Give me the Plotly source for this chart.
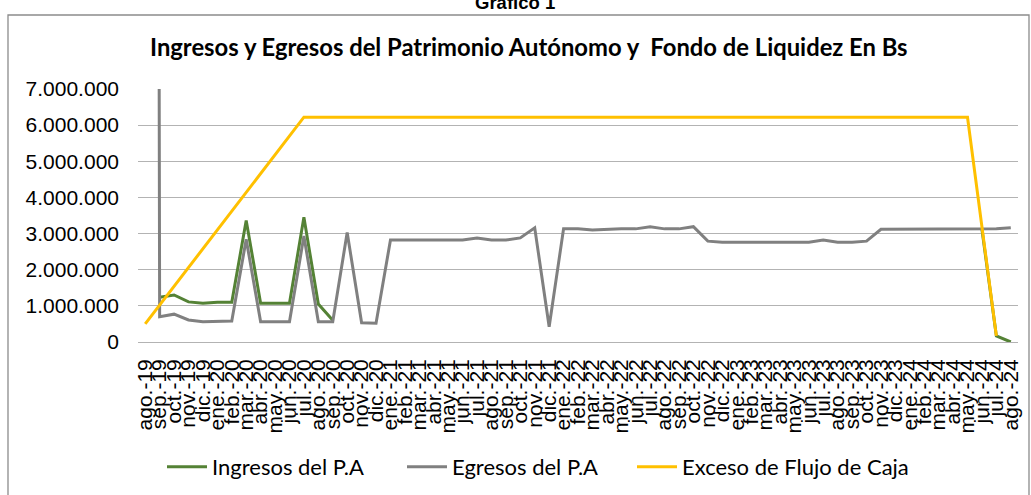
import plotly.graph_objects as go

months = [
    "ago.-19", "sep.-19", "oct.-19", "nov.-19", "dic.-19",
    "ene.-20", "feb.-20", "mar.-20", "abr.-20", "may.-20", "jun.-20", "jul.-20",
    "ago.-20", "sep.-20", "oct.-20", "nov.-20", "dic.-20",
    "ene.-21", "feb.-21", "mar.-21", "abr.-21", "may.-21", "jun.-21", "jul.-21",
    "ago.-21", "sep.-21", "oct.-21", "nov.-21", "dic.-21",
    "ene.-22", "feb.-22", "mar.-22", "abr.-22", "may.-22", "jun.-22", "jul.-22",
    "ago.-22", "sep.-22", "oct.-22", "nov.-22", "dic.-22",
    "ene.-23", "feb.-23", "mar.-23", "abr.-23", "may.-23", "jun.-23", "jul.-23",
    "ago.-23", "sep.-23", "oct.-23", "nov.-23", "dic.-23",
    "ene.-24", "feb.-24", "mar.-24", "abr.-24", "may.-24", "jun.-24", "jul.-24",
    "ago.-24",
]

ingresos = [
    None, 1240000, 1300000, 1110000, 1070000, 1100000, 1100000, 3360000,
    1070000, 1070000, 1070000, 3450000, 1050000, 600000,
    None, None, None, None, None, None, None, None, None, None,
    None, None, None, None, None, None, None, None, None, None,
    None, None, None, None, None, None, None, None, None, None,
    None, None, None, None, None, None, None, None, None, None,
    None, None, None, None,
    3120000, 170000, 0,
]

egresos = [
    200000000, 700000, 770000, 610000, 560000, 580000, 580000, 2840000,
    560000, 560000, 560000, 2930000, 560000, 560000, 3030000, 530000,
    520000, 2820000, 2820000, 2800000, 2820000, 2820000, 2820000, 2880000,
    2820000, 2820000, 2880000, 3160000, 420000, 3130000, 3130000, 3100000,
    3120000, 3130000, 3130000, 3190000, 3130000, 3130000, 3190000, 2790000,
    2760000, 2760000, 2760000, 2760000, 2760000, 2760000, 2760000, 2820000,
    2760000, 2760000, 2790000, 3120000, 3120000, 3120000, 3120000, 3120000,
    3120000, 3120000, 3120000, 3130000, 3160000,
]

exceso = [
    500000, 1020000, 1540000, 2060000, 2580000, 3100000, 3620000, 4140000,
    4660000, 5180000, 5700000, 6220000, 6220000, 6220000, 6220000, 6220000,
    6220000, 6220000, 6220000, 6220000, 6220000, 6220000, 6220000, 6220000,
    6220000, 6220000, 6220000, 6220000, 6220000, 6220000, 6220000, 6220000,
    6220000, 6220000, 6220000, 6220000, 6220000, 6220000, 6220000, 6220000,
    6220000, 6220000, 6220000, 6220000, 6220000, 6220000, 6220000, 6220000,
    6220000, 6220000, 6220000, 6220000, 6220000, 6220000, 6220000, 6220000,
    6220000, 6220000, 3190000, 170000, None,
]

series_names = ["Ingresos del P.A", "Egresos del P.A", "Exceso de Flujo de Caja"]
series_colors = ["#548235", "#808080", "#ffc000"]
legend_ids = ["legend", "legend2", "legend3"]
legend_left_px = [162, 402, 632]

W, H = 1031, 495
ML, MR, MT, MB = 138, 13, 89, 153
PW = W - ML - MR
PH = H - MT - MB


def px_x(p):
    return (p - ML) / PW


def px_y(p):
    return (H - MB - p) / PH


xs = list(range(len(months)))

fig = go.Figure()
for name, vals, col, lg in zip(series_names, [ingresos, egresos, exceso], series_colors, legend_ids):
    fig.add_trace(go.Scatter(
        x=xs, y=vals, mode="lines", name=name, legend=lg,
        line=dict(color=col, width=3), connectgaps=False,
    ))

arial = "Liberation Sans, Arial, sans-serif"
calibri = "Lato, Carlito, Calibri, sans-serif"

legend_style = {}
for lg, lx in zip(legend_ids, legend_left_px):
    legend_style[lg] = dict(
        orientation="h", x=px_x(lx), xanchor="left", y=px_y(467), yanchor="middle",
        font=dict(family=calibri, size=22, color="#000000"),
        itemwidth=40, bgcolor="rgba(0,0,0,0)",
    )

fig.update_layout(
    width=W, height=H,
    margin=dict(l=ML, r=MR, t=MT, b=MB, autoexpand=False),
    paper_bgcolor="white", plot_bgcolor="white",
    separators=",.",
    showlegend=True,
    **legend_style,
    xaxis=dict(
        range=[-0.5, len(months) - 0.5],
        tickmode="array", tickvals=xs, ticktext=months,
        tickangle=-90, tickfont=dict(family=arial, size=21, color="#000000"),
        showgrid=False, zeroline=False,
        showline=False, ticks="", ticklabelstandoff=12,
        fixedrange=True,
    ),
    yaxis=dict(
        range=[0, 7000000], dtick=1000000, tick0=0,
        tickformat=",d", tickfont=dict(family=arial, size=21, color="#000000"),
        showgrid=True, gridcolor="#b3b3b3", gridwidth=1.3,
        zeroline=True, zerolinecolor="#b3b3b3", zerolinewidth=1.3,
        showline=False, ticks="", ticklabelstandoff=18,
        fixedrange=True,
    ),
    annotations=[
        dict(text="<b>Ingresos y Egresos del Patrimonio Autónomo y  Fondo de Liquidez En Bs</b>",
             xref="paper", yref="paper", x=px_x(528), y=px_y(47),
             xanchor="center", yanchor="middle", showarrow=False,
             font=dict(family=calibri, size=23.8, color="#000000")),
        dict(text="<b>Gráfico 1</b>",
             xref="paper", yref="paper", x=px_x(515), y=px_y(2),
             xanchor="center", yanchor="middle", showarrow=False,
             font=dict(family=arial, size=18.5, color="#000000")),
    ],
    shapes=[
        dict(type="rect", xref="paper", yref="paper",
             x0=px_x(8), x1=px_x(1029), y0=px_y(520), y1=px_y(15),
             line=dict(color="#8c8c8c", width=1.3), fillcolor="rgba(0,0,0,0)", layer="below"),
    ],
)

fig.write_html(
    "out.html",
    config=dict(displayModeBar=False),
    post_script="document.body.style.margin='0';document.body.style.overflow='hidden';",
)
